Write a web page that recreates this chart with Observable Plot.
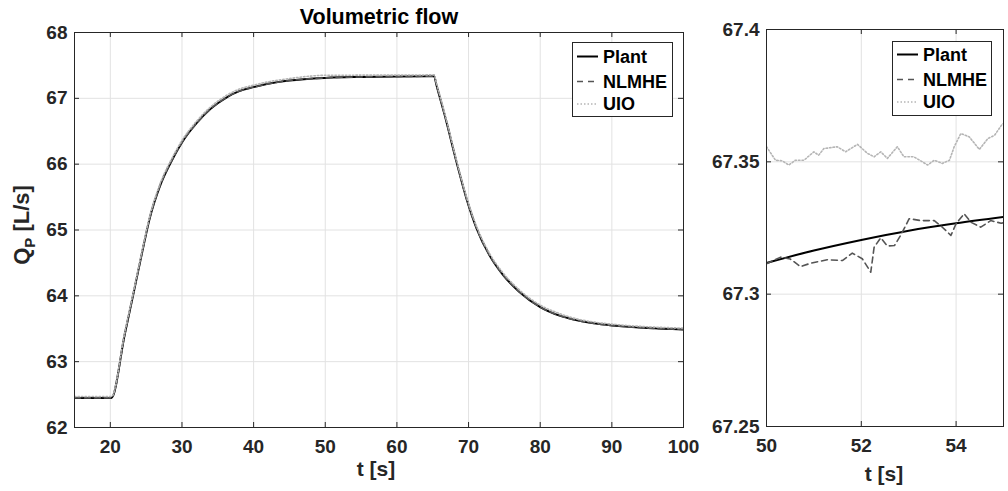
<!DOCTYPE html>
<html>
<head>
<meta charset="utf-8">
<script src="https://cdn.jsdelivr.net/npm/d3@7"></script>
<script src="https://cdn.jsdelivr.net/npm/@observablehq/plot@0.6"></script>
<style>
  html, body { margin: 0; padding: 0; background: #fff; }
  #wrap { position: relative; width: 1008px; height: 491px; overflow: hidden; font-family: "Liberation Sans", Arial, sans-serif; }
  .panel { position: absolute; top: 0; }
  #overlay { position: absolute; left: 0; top: 0; pointer-events: none; }
</style>
</head>
<body>
<div id="wrap">
  <div id="left" class="panel" style="left:0px"></div>
  <div id="right" class="panel" style="left:700px"></div>
</div>
<script>
// ---------- Data ----------
const seriesNames = ["Plant", "NLMHE", "UIO"];

// Left panel: full simulation
const tLeft      = [15, 20.15, 22, 23.2, 24.4, 25.5, 26.9, 28.6, 30, 32.1, 34, 36.3, 38, 40, 42, 45, 50, 55, 60, 65.2, 65.5, 66.9, 68.3, 69.7, 71.1, 72.9, 74.8, 77.1, 80, 82.7, 85.5, 88, 91, 95, 100];
const plantLeft  = [62.45, 62.45, 63.41, 64.02, 64.64, 65.18, 65.66, 66.06, 66.33, 66.63, 66.84, 67.02, 67.11, 67.17, 67.22, 67.27, 67.31, 67.324, 67.33, 67.335, 67.21, 66.65, 66.04, 65.48, 65.03, 64.62, 64.32, 64.06, 63.83, 63.70, 63.62, 63.575, 63.54, 63.51, 63.49];
const nlmheLeft  = [62.45, 62.45, 63.40, 64.02, 64.64, 65.18, 65.66, 66.06, 66.33, 66.63, 66.84, 67.02, 67.11, 67.17, 67.22, 67.27, 67.31, 67.325, 67.33, 67.336, 67.21, 66.65, 66.04, 65.48, 65.03, 64.62, 64.32, 64.06, 63.83, 63.70, 63.62, 63.575, 63.54, 63.51, 63.49];
const uioLeft    = [62.47, 62.47, 63.44, 64.05, 64.67, 65.21, 65.69, 66.09, 66.36, 66.66, 66.87, 67.05, 67.14, 67.20, 67.25, 67.30, 67.35, 67.352, 67.353, 67.356, 67.24, 66.68, 66.07, 65.51, 65.06, 64.65, 64.35, 64.09, 63.86, 63.73, 63.64, 63.595, 63.56, 63.53, 63.51];

// Right panel: zoom 50..55 s
const tPlantZoom = [50, 51, 52, 53, 54, 55];
const plantZoom  = [67.3118, 67.3165, 67.3205, 67.3240, 67.3268, 67.3292];

const tNlmheZoom = [50, 50.3, 50.5, 50.72, 50.93, 51.28, 51.6, 51.81, 52.02, 52.2, 52.27, 52.41, 52.55, 52.7, 52.83, 53.01, 53.26, 53.54, 53.71, 53.89, 54.0, 54.17, 54.31, 54.52, 54.73, 54.95, 55];
const nlmheZoom  = [67.3115, 67.3140, 67.3133, 67.3104, 67.3117, 67.3130, 67.3127, 67.3155, 67.3134, 67.3083, 67.3177, 67.3213, 67.3182, 67.3184, 67.3222, 67.3285, 67.3278, 67.3278, 67.3253, 67.3222, 67.3266, 67.3304, 67.3272, 67.3253, 67.3278, 67.3268, 67.3270];

const tUioZoom   = [50, 50.19, 50.33, 50.47, 50.61, 50.79, 51.0, 51.1, 51.21, 51.49, 51.67, 51.92, 52.13, 52.27, 52.41, 52.55, 52.76, 52.9, 53.11, 53.4, 53.54, 53.71, 53.86, 53.96, 54.1, 54.28, 54.49, 54.67, 54.81, 54.96, 55];
const uioZoom    = [67.3557, 67.3506, 67.3504, 67.3488, 67.3506, 67.3506, 67.3538, 67.3525, 67.3550, 67.3557, 67.3538, 67.3566, 67.3532, 67.3519, 67.3538, 67.3513, 67.3557, 67.3519, 67.3519, 67.3488, 67.3506, 67.3494, 67.3506, 67.3557, 67.3607, 67.3594, 67.3547, 67.3588, 67.3600, 67.3639, 67.3645];

// Ticks
const xTicksLeft  = [20, 30, 40, 50, 60, 70, 80, 90, 100];
const yTicksLeft  = [62, 63, 64, 65, 66, 67, 68];
const xTicksRight = [50, 52, 54];
const yTicksRight = [67.25, 67.3, 67.35, 67.4];

// Texts
const titleText = "Volumetric flow";
const xLabelText = "t [s]";

// ---------- Styles ----------
const FONT = "'Liberation Sans', Arial, Helvetica, sans-serif";
const AX = "#262626";
const GRID = "#e2e2e2";
const styles = {
  Plant: {stroke: "#000000", strokeWidth: 2},
  NLMHE: {stroke: "#555555", strokeWidth: 1.6, strokeDasharray: "6,4"},
  UIO:   {stroke: "#b5b5b5", strokeWidth: 1.6, strokeDasharray: "1.5,2"}
};

function rows(t, v, name) { return t.map((d, i) => ({t: d, v: v[i], s: name})); }

function panel({width, height, mt, mr, mb, ml, xd, yd, xt, yt, series, curve, xPad, yPad}) {
  const pw = width - ml - mr, ph = height - mt - mb;
  const fmt = d => String(d);
  return Plot.plot({
    width, height, marginTop: mt, marginRight: mr, marginBottom: mb, marginLeft: ml,
    x: {domain: xd}, y: {domain: yd},
    style: {fontFamily: FONT, fontSize: "19px", fontWeight: "bold", color: AX, background: "transparent", overflow: "visible"},
    marks: [
      Plot.gridX(xt.filter(d => d > xd[0] && d < xd[1]), {stroke: GRID, strokeOpacity: 1, strokeWidth: 1}),
      Plot.gridY(yt.filter(d => d > yd[0] && d < yd[1]), {stroke: GRID, strokeOpacity: 1, strokeWidth: 1}),
      ...series.map(s => Plot.line(s.data, {x: "t", y: "v", curve: s.curve || curve, clip: true, ...styles[s.name]})),
      Plot.tickX(xt, {x: d => d, insetTop: ph - 5, stroke: AX}),
      Plot.tickX(xt, {x: d => d, insetBottom: ph - 5, stroke: AX}),
      Plot.tickY(yt, {y: d => d, insetRight: pw - 5, stroke: AX}),
      Plot.tickY(yt, {y: d => d, insetLeft: pw - 5, stroke: AX}),
      Plot.axisX({ticks: xt, tickSize: 0, tickPadding: xPad, label: null, tickFormat: fmt}),
      Plot.axisY({ticks: yt, tickSize: 0, tickPadding: yPad, label: null, tickFormat: fmt}),
      Plot.frame({stroke: AX, strokeWidth: 1})
    ]
  });
}

const left = panel({
  width: 700, height: 491, mt: 32, mr: 17, mb: 64, ml: 74,
  xd: [15, 100], yd: [62, 68], xt: xTicksLeft, yt: yTicksLeft, curve: "monotone-x", xPad: 12, yPad: 7,
  series: [
    {name: "Plant", data: rows(tLeft, plantLeft, "Plant")},
    {name: "NLMHE", data: rows(tLeft, nlmheLeft, "NLMHE")},
    {name: "UIO", data: rows(tLeft, uioLeft, "UIO")}
  ]
});
document.getElementById("left").appendChild(left);

const right = panel({
  width: 308, height: 491, mt: 29, mr: 5, mb: 65, ml: 66,
  xd: [50, 55], yd: [67.25, 67.4], xt: xTicksRight, yt: yTicksRight, curve: "linear", xPad: 12, yPad: 7,
  series: [
    {name: "Plant", data: rows(tPlantZoom, plantZoom, "Plant"), curve: "monotone-x"},
    {name: "NLMHE", data: rows(tNlmheZoom, nlmheZoom, "NLMHE")},
    {name: "UIO", data: rows(tUioZoom, uioZoom, "UIO")}
  ]
});
document.getElementById("right").appendChild(right);

// ---------- Overlay: title, axis labels, legends ----------
const NS = "http://www.w3.org/2000/svg";
const ov = document.createElementNS(NS, "svg");
ov.setAttribute("id", "overlay");
ov.setAttribute("width", 1008);
ov.setAttribute("height", 491);
document.getElementById("wrap").appendChild(ov);

function el(tag, attrs, parent = ov) {
  const e = document.createElementNS(NS, tag);
  for (const k in attrs) e.setAttribute(k, attrs[k]);
  parent.appendChild(e);
  return e;
}
function txt(str, attrs) { const e = el("text", {"font-family": FONT, "font-weight": "bold", ...attrs}); e.textContent = str; return e; }

txt(titleText, {x: 379, y: 23.5, "text-anchor": "middle", "font-size": 21.5, fill: "#000"});
txt(xLabelText, {x: 376, y: 476, "text-anchor": "middle", "font-size": 21, fill: AX});
txt(xLabelText, {x: 884, y: 481, "text-anchor": "middle", "font-size": 21, fill: AX});

// y label with subscript
const yl = el("text", {transform: "translate(29,225) rotate(-90)", "text-anchor": "middle", "font-family": FONT, "font-weight": "bold", "font-size": 22, fill: AX});
const q = el("tspan", {}, yl); q.textContent = "Q";
const sub = el("tspan", {"font-size": 15, dy: 6}, yl); sub.textContent = "P";
const rest = el("tspan", {dy: -6}, yl); rest.textContent = " [L/s]";

function legend(x0, y0, w, h, rowsY) {
  el("rect", {x: x0 + 0.5, y: y0 + 0.5, width: w, height: h, fill: "#fff", stroke: AX, "stroke-width": 1});
  seriesNames.forEach((name, i) => {
    const cy = y0 + rowsY[i];
    const st = styles[name];
    const attrs = {x1: x0 + 5, x2: x0 + 26, y1: cy, y2: cy, stroke: st.stroke, "stroke-width": st.strokeWidth};
    if (st.strokeDasharray) attrs["stroke-dasharray"] = name === "NLMHE" ? "6,5" : st.strokeDasharray;
    el("line", attrs);
    txt(name, {x: x0 + 31, y: cy + 6.3, "font-size": 18, fill: "#000"});
  });
}
legend(572, 42, 100, 74, [14.5, 39.5, 62]);
legend(892, 41, 99, 74, [13.5, 38.5, 61]);
</script>
</body>
</html>
